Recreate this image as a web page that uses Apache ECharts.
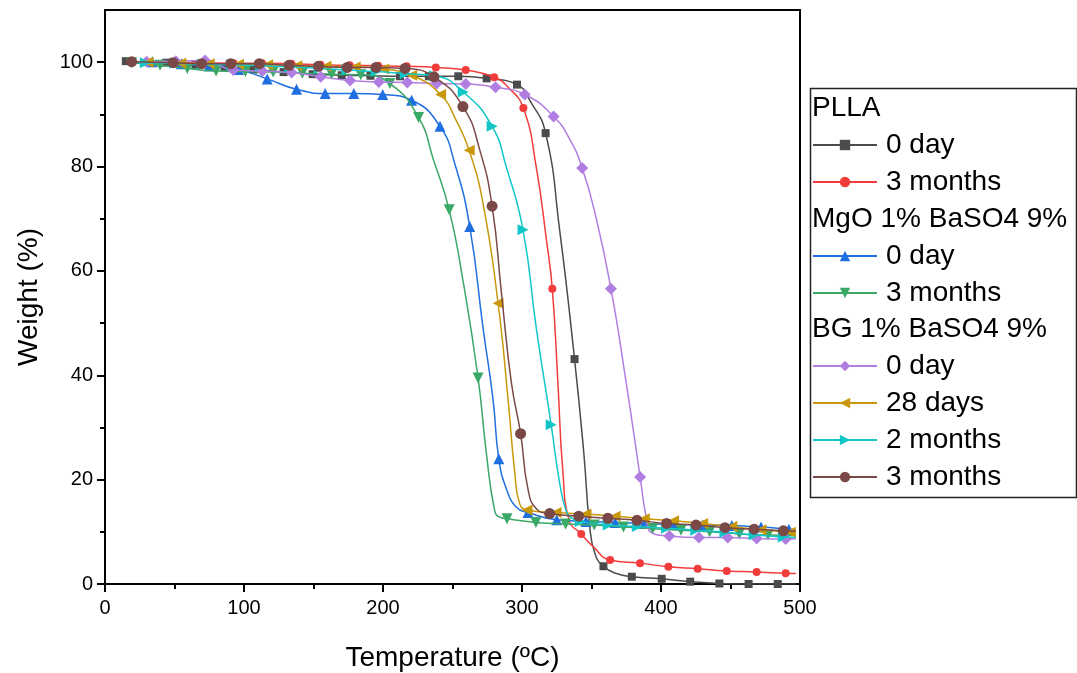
<!DOCTYPE html>
<html>
<head>
<meta charset="utf-8">
<script src="https://cdn.jsdelivr.net/npm/echarts@6/dist/echarts.min.js"></script>
<style>
html,body{margin:0;padding:0;background:#fff;}
#chart{width:1077px;height:673px;}
</style>
</head>
<body>
<div id="chart"></div>
<script>
// ---- Data: [Temperature (°C), Weight (%)] ----
// Marker points (symbols drawn) and extra curve points (line only)
const xTicks = [0, 100, 200, 300, 400, 500];
const yTicks = [0, 20, 40, 60, 80, 100];
const yMinorTicks = [10, 30, 50, 70, 90];

const pllaDay0Markers = [[15,100.2],[44,99.9],[65,99.5],[86,99.1],[107,98.6],[128.5,98.1],[149.4,97.7],[170.3,97.5],[191,97.4],[212.2,97.3],[233,97.3],[254.2,97.3],[274.6,96.9],[296.4,95.7],[317,86.4],[337.8,43.1],[358.6,3.4],[379,1.4],[400.5,1.0],[421,0.45],[442,0.1],[463,0],[484,0]];
const pllaDay0Curve = [[306,92.5],[327,68],[344.5,25],[348.6,11.3],[352.5,5.8],[368,2.0],[497,0]];

const plla3mMarkers = [[30,100.1],[51,100],[72,99.9],[92.5,99.8],[113,99.8],[134,99.7],[155,99.5],[176,99.4],[196.5,99.3],[217,99.2],[238,99.0],[259.5,98.5],[280,97.1],[301,91.2],[321.8,56.6],[342.6,9.6],[363.4,4.6],[384.9,4.0],[405.3,3.3],[426.4,2.9],[447.3,2.5],[468.8,2.3],[489.7,2.05]];
const plla3mCurve = [[18,100.1],[290,95.2],[310.3,79.8],[317.5,66.1],[325.8,38.7],[329.4,21.6],[334.2,12.0],[351,7.2],[497,2.0]];

const mgoDay0Markers = [[34,100.1],[55,99.7],[75,99.3],[96,98.6],[116.7,96.8],[137.8,94.8],[158.4,94.0],[179,94.0],[199.8,93.8],[220.6,92.7],[241,87.7],[262.4,68.5],[283.3,24.0],[304.3,13.7],[325,12.3],[346,12.0],[367,11.8],[388,11.6],[409,11.4],[430,11.3],[451,11.2],[472,10.9],[492,10.5]];
const mgoDay0Curve = [[17,100.1],[251.7,80.5],[272,49],[279.2,35.3],[288.8,18.2],[296,14.7],[497,10.4]];

const mgo3mMarkers = [[19,99.9],[39.6,99.4],[59.2,98.8],[79.9,98.3],[101,98.2],[121,98.1],[142,97.9],[163,97.7],[184,97.6],[205,95.9],[225.6,89.4],[247.6,71.7],[268.4,39.5],[289.2,12.5],[310,11.8],[331.4,11.5],[352,11.3],[373,10.9],[394,10.6],[414.4,10.3],[435,10.0],[456.3,9.6],[477,9.4]];
const mgo3mCurve = [[236.4,81.2],[257.7,57.9],[274.4,25],[280.4,14],[284,12.8],[497,9.3]];

const bgDay0Markers = [[30,100.1],[51,100.2],[72,100.3],[92.3,98.5],[113.2,98.3],[134.3,98.0],[155.2,97.2],[176.3,96.5],[197,96.2],[217.5,96.1],[238.6,95.9],[259.5,95.8],[281,95.2],[302,93.8],[322.7,89.6],[343.3,79.7],[364,56.6],[385,20.5],[406,9.2],[427.3,8.9],[448,8.9],[468.8,8.7],[489.7,8.6]];
const bgDay0Curve = [[17,100],[334.2,85.3],[353.3,70.2],[374.9,38.7],[389.2,13],[392.8,9.9],[497,8.6]];

const bg28dMarkers = [[31,100],[54.5,99.8],[75,99.7],[96,99.6],[117,99.5],[138,99.3],[159,99.2],[180,99.1],[200.5,98.7],[220.6,97.5],[241.4,93.8],[262,83.1],[282.8,53.8],[303.6,14.2],[324.5,13.7],[346,13.4],[367,13.0],[388,12.5],[409,12.1],[430,11.6],[451,11.0],[472,10.4],[493,9.9]];
const bg28dCurve = [[17,100],[252.9,88.7],[272,72.9],[290,35.3],[294.7,21.6],[298.3,15.4],[497,9.8]];

const bg2mMarkers = [[29,99.9],[50,99.8],[70,99.6],[91,99.5],[112,99.3],[133,99.1],[154,98.8],[174,98.5],[195,98.2],[216,97.8],[237,97.4],[257.7,94.3],[278.5,87.7],[300.7,67.9],[321,30.5],[341.9,12.0],[362,11.3],[383,11.0],[404,10.7],[425,10.3],[446,9.9],[467,9.4],[488,9.0]];
const bg2mCurve = [[17,100],[288.8,79.8],[310.3,49],[327,19.5],[331.8,14],[336,12.6],[497,8.9]];

const bg3mMarkers = [[19.2,100.1],[49,99.9],[69.5,99.7],[90.4,99.7],[111,99.7],[132.4,99.4],[153.5,99.2],[174.3,99.0],[195,99.0],[215.8,98.8],[236.7,97.2],[257.5,91.5],[278.5,72.4],[299,28.8],[319.9,13.5],[340.8,13.0],[361.8,12.6],[382.7,12.2],[404,11.6],[425.2,11.3],[446,10.8],[467,10.5],[488,10.2]];
const bg3mCurve = [[269.6,83.2],[285.2,55.8],[292.3,38.7],[304.3,18.2],[310.3,14.4],[497,10.1]];

const groupTitles = ['PLLA', 'MgO 1% BaSO4 9%', 'BG 1% BaSO4 9%'];
const seriesNames = ['0 day', '3 months', '0 day\u200b', '3 months\u200b', '0 day\u200b\u200b', '28 days', '2 months', '3 months\u200b\u200b'];

function build(markers, curve) {
  const pts = markers.map(p => ({ value: p.slice(), m: true }))
    .concat(curve.map(p => ({ value: p.slice(), m: false })));
  pts.sort((a, b) => a.value[0] - b.value[0]);
  return pts.map(p => p.m ? { value: p.value } : { value: p.value, symbol: 'none' });
}

const styles = [
  { color: '#4b4b4b', symbol: 'rect', size: 8, rotate: 0 },
  { color: '#f23c3c', symbol: 'circle', size: 8, rotate: 0 },
  { color: '#1f6fe0', symbol: 'triangle', size: 11, rotate: 0 },
  { color: '#3aa866', symbol: 'triangle', size: 11, rotate: 180 },
  { color: '#b07ee0', symbol: 'diamond', size: 12, rotate: 0 },
  { color: '#c9980a', symbol: 'triangle', size: 11, rotate: 90 },
  { color: '#12c6c8', symbol: 'triangle', size: 11, rotate: -90 },
  { color: '#7b4848', symbol: 'circle', size: 11, rotate: 0 }
];
const dataSets = [
  build(pllaDay0Markers, pllaDay0Curve),
  build(plla3mMarkers, plla3mCurve),
  build(mgoDay0Markers, mgoDay0Curve),
  build(mgo3mMarkers, mgo3mCurve),
  build(bgDay0Markers, bgDay0Curve),
  build(bg28dMarkers, bg28dCurve),
  build(bg2mMarkers, bg2mCurve),
  build(bg3mMarkers, bg3mCurve)
];

const FONT = '"Liberation Sans", Arial, sans-serif';

const series = dataSets.map((d, i) => ({
  name: seriesNames[i],
  type: 'line',
  data: d,
  smooth: 0.5,
  symbol: styles[i].symbol,
  symbolSize: styles[i].size,
  symbolRotate: styles[i].rotate,
  showSymbol: true,
  lineStyle: { color: styles[i].color, width: 1.5 },
  itemStyle: { color: styles[i].color },
  animation: false,
  z: 2 + i
}));

const legendBase = {
  orient: 'vertical',
  left: 812,
  padding: 0,
  itemWidth: 64,
  itemHeight: 13,
  itemGap: 7,
  selectedMode: false,
  textStyle: { fontFamily: FONT, fontSize: 28, lineHeight: 30, color: '#000', padding: [0, 0, 0, 4] },
  formatter: n => n.replace(/\u200b/g, '')
};

const axisCommon = {
  axisLine: { show: true, lineStyle: { color: '#000', width: 2 } },
  splitLine: { show: false }
};

const chart = echarts.init(document.getElementById('chart'), null, { renderer: 'canvas' });
chart.setOption({
  backgroundColor: '#fff',
  animation: false,
  grid: { left: 105, right: 277, top: 10, bottom: 89, containLabel: false, outerBoundsMode: 'none', show: true, borderColor: '#000', borderWidth: 2, backgroundColor: 'transparent' },
  xAxis: Object.assign({}, axisCommon, {
    type: 'value', min: xTicks[0], max: xTicks[xTicks.length - 1], interval: 100,
    name: 'Temperature (ºC)', nameLocation: 'middle', nameGap: 60,
    nameTextStyle: { fontFamily: FONT, fontSize: 28, color: '#000' },
    axisTick: { show: true, inside: false, length: 8, lineStyle: { color: '#000', width: 2 } },
    minorTick: { show: true, splitNumber: 2, length: 5, lineStyle: { color: '#000', width: 2 } },
    axisLabel: { fontFamily: FONT, fontSize: 20, color: '#000', margin: 14 }
  }),
  yAxis: [
    Object.assign({}, axisCommon, {
      type: 'value', min: yTicks[0], max: 110, interval: 20,
      name: 'Weight (%)', nameLocation: 'middle', nameGap: 62,
      nameTextStyle: { fontFamily: FONT, fontSize: 28, color: '#000' },
      axisTick: { show: true, inside: false, length: 8, customValues: yTicks, lineStyle: { color: '#000', width: 2 } },
      minorTick: { show: false },
      axisLabel: { fontFamily: FONT, fontSize: 20, color: '#000', margin: 12, customValues: yTicks }
    }),
    {
      type: 'value', min: yTicks[0], max: 110, interval: 10, position: 'left',
      axisLine: { show: false },
      axisTick: { show: true, inside: false, length: 5, customValues: yMinorTicks, lineStyle: { color: '#000', width: 2 } },
      axisLabel: { show: false },
      splitLine: { show: false }
    }
  ],
  legend: [
    Object.assign({}, legendBase, { top: 130, data: [seriesNames[0], seriesNames[1]] }),
    Object.assign({}, legendBase, { top: 241, data: [seriesNames[2], seriesNames[3]] }),
    Object.assign({}, legendBase, { top: 351, data: [seriesNames[4], seriesNames[5], seriesNames[6], seriesNames[7]] })
  ],
  graphic: [
    { type: 'rect', left: 808, top: 86, shape: { width: 266, height: 409 }, style: { fill: 'none', stroke: '#222', lineWidth: 1.5 }, silent: true },
    { type: 'text', style: { x: 812, y: 108, text: groupTitles[0], font: '28px ' + FONT, fill: '#000', verticalAlign: 'middle' }, silent: true },
    { type: 'text', style: { x: 812, y: 219, text: groupTitles[1], font: '28px ' + FONT, fill: '#000', verticalAlign: 'middle' }, silent: true },
    { type: 'text', style: { x: 812, y: 329, text: groupTitles[2], font: '28px ' + FONT, fill: '#000', verticalAlign: 'middle' }, silent: true }
  ],
  series: series
});
</script>
</body>
</html>
